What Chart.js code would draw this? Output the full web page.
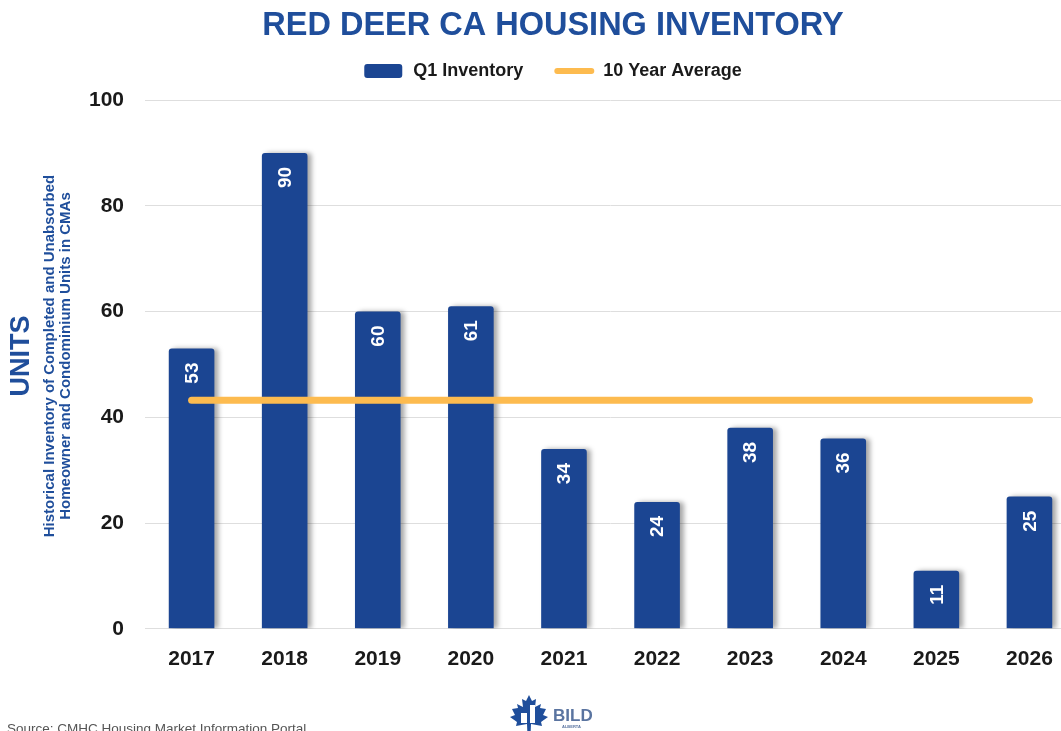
<!DOCTYPE html>
<html>
<head>
<meta charset="utf-8">
<title>Red Deer CA Housing Inventory</title>
<script src="https://cdn.jsdelivr.net/npm/chart.js@4.4.1/dist/chart.umd.min.js"></script>
<style>
    html, body { margin: 0; padding: 0; background: #ffffff; overflow: hidden; }
    #wrap { position: relative; width: 1080px; height: 731px; }
</style>
</head>
<body>
<div id="wrap"><canvas id="inventoryChart"></canvas></div>
<script>
// ============================================
// Red Deer CA Housing Inventory - bar + average line
// ============================================

// data
const years = ['2017', '2018', '2019', '2020', '2021', '2022', '2023', '2024', '2025', '2026'];
const q1Inventory = [53, 90, 60, 61, 34, 24, 38, 36, 11, 25];
const tenYearAverage = [43.2, 43.2, 43.2, 43.2, 43.2, 43.2, 43.2, 43.2, 43.2, 43.2];
const yTicks = [0, 20, 40, 60, 80, 100];

// colours / fonts
const BLUE = '#1b4592';
const TITLE_BLUE = '#1f4e9b';
const ORANGE = '#fdbb4f';
const FONT = '"Liberation Sans", Arial, sans-serif';

// bar shadow (only bars dataset)
const barShadow = {
    id: 'barShadow',
    beforeDatasetDraw(chart, args) {
        if (args.index !== 0) return;
        const ctx = chart.ctx;
        ctx.save();
        ctx.shadowColor = 'rgba(0,0,0,0.35)';
        ctx.shadowBlur = 5;
        ctx.shadowOffsetX = 4;
        ctx.shadowOffsetY = 0;
    },
    afterDatasetDraw(chart, args) {
        if (args.index !== 0) return;
        chart.ctx.restore();
    }
};

// value labels, rotated inside the top of each bar
const barLabels = {
    id: 'barLabels',
    afterDatasetsDraw(chart) {
        const ctx = chart.ctx;
        const meta = chart.getDatasetMeta(0);
        ctx.save();
        ctx.fillStyle = '#ffffff';
        ctx.font = 'bold 19px ' + FONT;
        ctx.textAlign = 'right';
        ctx.textBaseline = 'middle';
        meta.data.forEach((bar, i) => {
            ctx.save();
            ctx.translate(bar.x, bar.y + 14);
            ctx.rotate(-Math.PI / 2);
            ctx.fillText(String(q1Inventory[i]), 0, 1);
            ctx.restore();
        });
        ctx.restore();
    }
};

// title, legend, axis titles, source line and logo
const extras = {
    id: 'extras',
    afterDraw(chart) {
        const ctx = chart.ctx;
        const ds = chart.data.datasets;
        ctx.save();

        // title
        ctx.fillStyle = TITLE_BLUE;
        ctx.textAlign = 'center';
        ctx.textBaseline = 'middle';
        ctx.font = 'bold 32.5px ' + FONT;
        ctx.fillText('RED DEER CA HOUSING INVENTORY', 553, 26);

        // legend
        ctx.font = 'bold 18px ' + FONT;
        ctx.textAlign = 'left';
        const ly = 71;
        const w1 = ctx.measureText(ds[0].label).width;
        const w2 = ctx.measureText(ds[1].label).width;
        const total = 38 + 11 + w1 + 31 + 40 + 9 + w2;
        let lx = 553 - total / 2;
        ctx.fillStyle = BLUE;
        ctx.beginPath();
        ctx.roundRect(lx, ly - 7, 38, 14, 3);
        ctx.fill();
        ctx.fillStyle = '#1a1a1a';
        ctx.fillText(ds[0].label, lx + 49, ly);
        lx += 49 + w1 + 31;
        ctx.strokeStyle = ORANGE;
        ctx.lineWidth = 6;
        ctx.lineCap = 'round';
        ctx.beginPath();
        ctx.moveTo(lx + 3, ly);
        ctx.lineTo(lx + 37, ly);
        ctx.stroke();
        ctx.fillText(ds[1].label, lx + 49, ly);

        // y axis titles
        ctx.fillStyle = TITLE_BLUE;
        ctx.textAlign = 'center';
        ctx.save();
        ctx.translate(22, 356);
        ctx.rotate(-Math.PI / 2);
        ctx.font = 'bold 27px ' + FONT;
        ctx.fillText('UNITS', 0, 0);
        ctx.restore();
        ctx.save();
        ctx.translate(50, 356);
        ctx.rotate(-Math.PI / 2);
        ctx.font = 'bold 15px ' + FONT;
        ctx.fillText('Historical Inventory of Completed and Unabsorbed', 0, 0);
        ctx.fillText('Homeowner and Condominium Units in CMAs', 0, 16);
        ctx.restore();

        // source
        ctx.fillStyle = '#555555';
        ctx.textAlign = 'left';
        ctx.textBaseline = 'alphabetic';
        ctx.font = '13.5px ' + FONT;
        ctx.fillText('Source: CMHC Housing Market Information Portal', 7, 733);

        // logo
        drawLogo(ctx, 529, 715);
        ctx.restore();
    }
};

function drawLogo(ctx, cx, cy) {
    const leaf = [[0,-1],[0.15,-0.7],[0.35,-0.8],[0.3,-0.4],[0.6,-0.55],[0.55,-0.35],[0.85,-0.3],
        [0.7,0],[0.95,0.1],[0.6,0.35],[0.65,0.55],[0.1,0.45],[0.08,0.9],[-0.08,0.9],[-0.1,0.45],
        [-0.65,0.55],[-0.6,0.35],[-0.95,0.1],[-0.7,0],[-0.85,-0.3],[-0.55,-0.35],[-0.6,-0.55],
        [-0.3,-0.4],[-0.35,-0.8],[-0.15,-0.7]];
    const r = 20;
    ctx.fillStyle = TITLE_BLUE;
    ctx.beginPath();
    leaf.forEach((p, i) => {
        const x = cx + p[0] * r, y = cy + p[1] * r;
        if (i === 0) ctx.moveTo(x, y); else ctx.lineTo(x, y);
    });
    ctx.closePath();
    ctx.fill();
    ctx.fillStyle = '#ffffff';
    ctx.fillRect(cx - 8, cy - 2, 6, 10);
    ctx.fillRect(cx + 1, cy - 10, 5, 18);
    ctx.fillStyle = '#5a74a0';
    ctx.font = 'bold 17px ' + FONT;
    ctx.textAlign = 'left';
    ctx.textBaseline = 'alphabetic';
    ctx.fillText('BILD', cx + 24, cy + 6);
    ctx.font = 'bold 4px ' + FONT;
    ctx.fillText('ALBERTA', cx + 33, cy + 13);
}

// build chart
const ctx = document.getElementById('inventoryChart').getContext('2d');
const inventoryChart = new Chart(ctx, {
    data: {
        labels: years,
        datasets: [{
            type: 'bar',
            label: 'Q1 Inventory',
            data: q1Inventory,
            backgroundColor: BLUE,
            borderRadius: { topLeft: 3, topRight: 3 },
            borderSkipped: false,
            barPercentage: 0.49,
            categoryPercentage: 1,
            order: 2
        }, {
            type: 'line',
            label: '10 Year Average',
            data: tenYearAverage,
            borderColor: ORANGE,
            backgroundColor: ORANGE,
            borderWidth: 7,
            borderCapStyle: 'round',
            pointRadius: 0,
            fill: false,
            order: 1
        }]
    },
    options: {
        responsive: true,
        maintainAspectRatio: false,
        animation: false,
        layout: { padding: { left: 68, right: 4, top: 100, bottom: 49 } },
        plugins: {
            legend: { display: false },
            tooltip: { enabled: false },
            title: { display: false }
        },
        scales: {
            x: {
                grid: { display: false },
                border: { display: false },
                ticks: {
                    color: '#1a1a1a',
                    padding: 10,
                    font: { family: FONT, size: 21, weight: 'bold' }
                }
            },
            y: {
                min: 0,
                max: 100,
                afterBuildTicks(axis) { axis.ticks = yTicks.map(v => ({ value: v })); },
                grid: { color: '#dedede', lineWidth: 1, drawTicks: false },
                border: { display: false },
                ticks: {
                    color: '#1a1a1a',
                    padding: 21,
                    font: { family: FONT, size: 21, weight: 'bold' }
                }
            }
        }
    },
    plugins: [barShadow, barLabels, extras]
});
</script>
</body>
</html>
